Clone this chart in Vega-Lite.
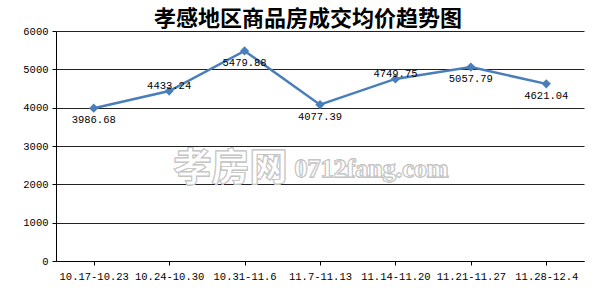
{
  "$schema": "https://vega.github.io/schema/vega-lite/v6.json",
  "autosize": "none",
  "width": 528,
  "height": 230,
  "padding": {"left": 56, "top": 31, "right": 16, "bottom": 39},
  "background": "white",
  "title": {
    "text": "孝感地区商品房成交均价趋势图",
    "font": "Noto Sans CJK SC",
    "fontSize": 22,
    "fontWeight": "bold",
    "color": "#000000",
    "anchor": "middle",
    "dx": -12,
    "offset": -5
  },
  "config": {
    "view": {"stroke": null},
    "axis": {
      "labelFont": "Liberation Mono",
      "labelFontSize": 10.5,
      "labelColor": "#000000",
      "domainColor": "#000000",
      "tickColor": "#000000",
      "gridColor": "#222222",
      "gridOpacity": 1,
      "tickSize": 4,
      "title": null
    }
  },
  "data": {
    "values": [
      {"week": "10.17-10.23", "price": 3986.68, "pos": "below"},
      {"week": "10.24-10.30", "price": 4433.24, "pos": "above"},
      {"week": "10.31-11.6", "price": 5479.88, "pos": "below"},
      {"week": "11.7-11.13", "price": 4077.39, "pos": "below"},
      {"week": "11.14-11.20", "price": 4749.75, "pos": "above"},
      {"week": "11.21-11.27", "price": 5057.79, "pos": "below"},
      {"week": "11.28-12.4", "price": 4621.04, "pos": "below"}
    ]
  },
  "encoding": {
    "x": {
      "field": "week",
      "type": "nominal",
      "sort": null,
      "scale": {"domain": ["10.17-10.23", "10.24-10.30", "10.31-11.6", "11.7-11.13", "11.14-11.20", "11.21-11.27", "11.28-12.4"], "paddingInner": 0, "paddingOuter": 0},
      "axis": {"labelAngle": 0, "bandPosition": 0, "grid": false, "labelPadding": 6, "domainWidth": 1}
    },
    "y": {
      "field": "price",
      "type": "quantitative",
      "scale": {"domain": [0, 6000]},
      "axis": {"values": [0, 1000, 2000, 3000, 4000, 5000, 6000], "format": "d", "grid": true, "labelPadding": 4, "domainWidth": 1}
    }
  },
  "layer": [
    {
      "mark": {"type": "text", "text": "孝房网", "font": "Noto Sans CJK SC", "fontSize": 38, "fontWeight": "bold", "fill": "white", "stroke": "#c4c4c4", "strokeWidth": 0.8, "baseline": "middle", "align": "center", "dx": -14},
      "encoding": {"x": {"datum": "10.31-11.6"}, "y": {"datum": 2400}}
    },
    {
      "mark": {"type": "text", "text": "0712fang.com", "font": "Liberation Serif", "fontSize": 26, "fontWeight": "bold", "fill": "white", "stroke": "#c4c4c4", "strokeWidth": 0.8, "baseline": "middle", "align": "left", "dx": 50},
      "encoding": {"x": {"datum": "10.31-11.6"}, "y": {"datum": 2400}}
    },
    {
      "mark": {"type": "line", "color": "#4A7EBB", "strokeWidth": 2.5}
    },
    {
      "mark": {"type": "point", "shape": "diamond", "filled": true, "color": "#4A7EBB", "size": 85, "opacity": 1}
    },
    {
      "transform": [{"filter": "datum.pos == 'below'"}],
      "mark": {"type": "text", "font": "Liberation Mono", "fontSize": 10.5, "color": "#000000", "baseline": "middle", "dy": 12},
      "encoding": {"text": {"field": "price", "type": "quantitative", "format": ".2f"}}
    },
    {
      "transform": [{"filter": "datum.pos == 'above'"}],
      "mark": {"type": "text", "font": "Liberation Mono", "fontSize": 10.5, "color": "#000000", "baseline": "middle", "dy": -5},
      "encoding": {"text": {"field": "price", "type": "quantitative", "format": ".2f"}}
    }
  ]
}
